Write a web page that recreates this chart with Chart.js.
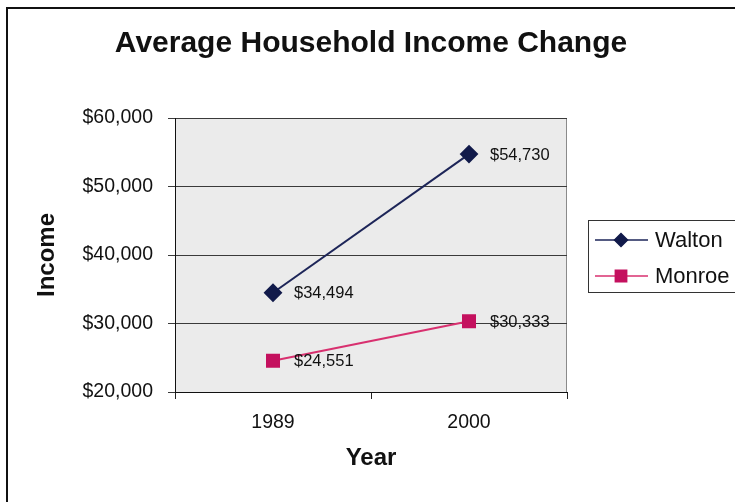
<!DOCTYPE html>
<html lang="en">
  <head>
    <meta charset="UTF-8" />
    <title>Average Household Income Change</title>
    <script src="https://cdn.jsdelivr.net/npm/chart.js"></script>
    <style>
      * {
        margin: 0;
        padding: 0;
        box-sizing: border-box;
      }

      body {
        background: #fff;
        width: 735px;
        height: 502px;
        overflow: hidden;
      }

      canvas {
        display: block;
      }
    </style>
  </head>
  <body>
    <canvas id="incomeChart" width="735" height="502"></canvas>

    <script>
      // Data
      const years = ["1989", "2000"];
      const walton = [34494, 54730];
      const monroe = [24551, 30333];
      const yTicks = [20000, 30000, 40000, 50000, 60000];

      const FONT = "'Liberation Sans', Arial, sans-serif";
      const money = (v) => "$" + v.toLocaleString("en-US");

      // grey plot background, light frame on top/right, outer border
      const plotArea = {
        id: "plotArea",
        beforeDraw(chart) {
          const { ctx, chartArea: a } = chart;
          ctx.save();
          ctx.fillStyle = "#ffffff";
          ctx.fillRect(0, 0, chart.width, chart.height);
          ctx.fillStyle = "#ebebeb";
          ctx.fillRect(a.left, a.top, a.right - a.left, a.bottom - a.top);
          ctx.strokeStyle = "#8a8a8a";
          ctx.lineWidth = 1;
          ctx.beginPath();
          ctx.moveTo(a.left, a.top + 0.5);
          ctx.lineTo(a.right - 0.5, a.top + 0.5);
          ctx.lineTo(a.right - 0.5, a.bottom);
          ctx.stroke();

          ctx.strokeStyle = "#111";
          ctx.lineWidth = 2;
          ctx.beginPath();
          ctx.moveTo(7, chart.height + 5);
          ctx.lineTo(7, 8);
          ctx.lineTo(chart.width + 5, 8);
          ctx.stroke();
          ctx.restore();
        },
      };

      // value labels to the right of every point
      const valueLabels = {
        id: "valueLabels",
        afterDatasetsDraw(chart) {
          const { ctx } = chart;
          ctx.save();
          ctx.font = "16.5px " + FONT;
          ctx.fillStyle = "#111";
          ctx.textAlign = "left";
          ctx.textBaseline = "middle";
          chart.data.datasets.forEach((ds, i) => {
            chart.getDatasetMeta(i).data.forEach((pt, j) => {
              ctx.fillText(money(ds.data[j]), pt.x + 21, pt.y + 1);
            });
          });
          ctx.restore();
        },
      };

      // boxed legend on the right (runs off the right edge)
      const sideLegend = {
        id: "sideLegend",
        afterDraw(chart) {
          const { ctx } = chart;
          ctx.save();
          ctx.strokeStyle = "#333";
          ctx.lineWidth = 1;
          ctx.strokeRect(588.5, 220.5, 160, 72);
          chart.data.datasets.forEach((ds, i) => {
            const y = 240 + i * 36;
            ctx.strokeStyle = ds.borderColor;
            ctx.lineWidth = 1.5;
            ctx.beginPath();
            ctx.moveTo(595, y);
            ctx.lineTo(648, y);
            ctx.stroke();
            ctx.fillStyle = ds.pointBackgroundColor;
            ctx.strokeStyle = ds.pointBackgroundColor;
            Chart.helpers.drawPoint(
              ctx,
              {
                pointStyle: ds.pointStyle,
                radius: ds.pointStyle === "rect" ? 8 : 6.5,
                rotation: 0,
                borderWidth: 1,
              },
              621,
              y
            );
            ctx.fillStyle = "#111";
            ctx.font = "22px " + FONT;
            ctx.textAlign = "left";
            ctx.textBaseline = "middle";
            ctx.fillText(ds.label, 655, y + 1);
          });
          ctx.restore();
        },
      };

      new Chart(document.getElementById("incomeChart"), {
        type: "line",
        data: {
          labels: years,
          datasets: [
            {
              label: "Walton",
              data: walton,
              yAxisID: "y",
              borderColor: "#1d2558",
              borderWidth: 2,
              pointStyle: "rectRot",
              pointRadius: 8,
              pointBackgroundColor: "#111a4a",
              pointBorderColor: "#111a4a",
              tension: 0,
            },
            {
              label: "Monroe",
              data: monroe,
              yAxisID: "y",
              borderColor: "#d8306f",
              borderWidth: 2,
              pointStyle: "rect",
              pointRadius: 8.5,
              pointBackgroundColor: "#c4105e",
              pointBorderColor: "#c4105e",
              tension: 0,
            },
          ],
        },
        options: {
          responsive: false,
          animation: false,
          devicePixelRatio: 1,
          layout: { padding: { top: 14, right: 0, bottom: 0, left: 7 } },
          plugins: {
            legend: { display: false },
            tooltip: { enabled: false },
            title: {
              display: true,
              text: "Average Household Income Change",
              color: "#111",
              font: { family: FONT, size: 30, weight: "bold" },
              padding: { top: 12, bottom: 56 },
            },
          },
          scales: {
            x: {
              offset: true,
              afterFit(scale) {
                scale.height = 110;
              },
              grid: {
                offset: true,
                drawOnChartArea: false,
                drawTicks: true,
                tickLength: 7,
                color: "#222",
              },
              border: { display: true, color: "#111", width: 1 },
              ticks: {
                color: "#111",
                padding: 12,
                font: { family: FONT, size: 19.5 },
              },
              title: {
                display: true,
                text: "Year",
                color: "#111",
                font: { family: FONT, size: 24, weight: "bold" },
                padding: { top: 0, bottom: 29 },
              },
            },
            y: {
              min: yTicks[0],
              max: yTicks[yTicks.length - 1],
              afterBuildTicks(scale) {
                scale.ticks = yTicks.map((v) => ({ value: v }));
              },
              afterFit(scale) {
                scale.width = 168;
              },
              grid: {
                color: "#3a3a3a",
                lineWidth: 1,
                drawTicks: true,
                tickLength: 7,
              },
              border: { display: true, color: "#111", width: 1 },
              ticks: {
                color: "#111",
                padding: 15,
                font: { family: FONT, size: 19.5 },
                callback: (v) => money(v),
              },
              title: {
                display: true,
                text: "Income",
                color: "#111",
                font: { family: FONT, size: 24, weight: "bold" },
                padding: { top: 26, bottom: 0 },
              },
            },
            // empty right-hand band that holds the legend
            legendSpace: {
              axis: "y",
              type: "linear",
              position: "right",
              afterFit(scale) {
                scale.width = 168;
              },
              grid: { display: false },
              border: { display: false },
              ticks: { display: false },
            },
          },
        },
        plugins: [plotArea, valueLabels, sideLegend],
      });
    </script>
  </body>
</html>
